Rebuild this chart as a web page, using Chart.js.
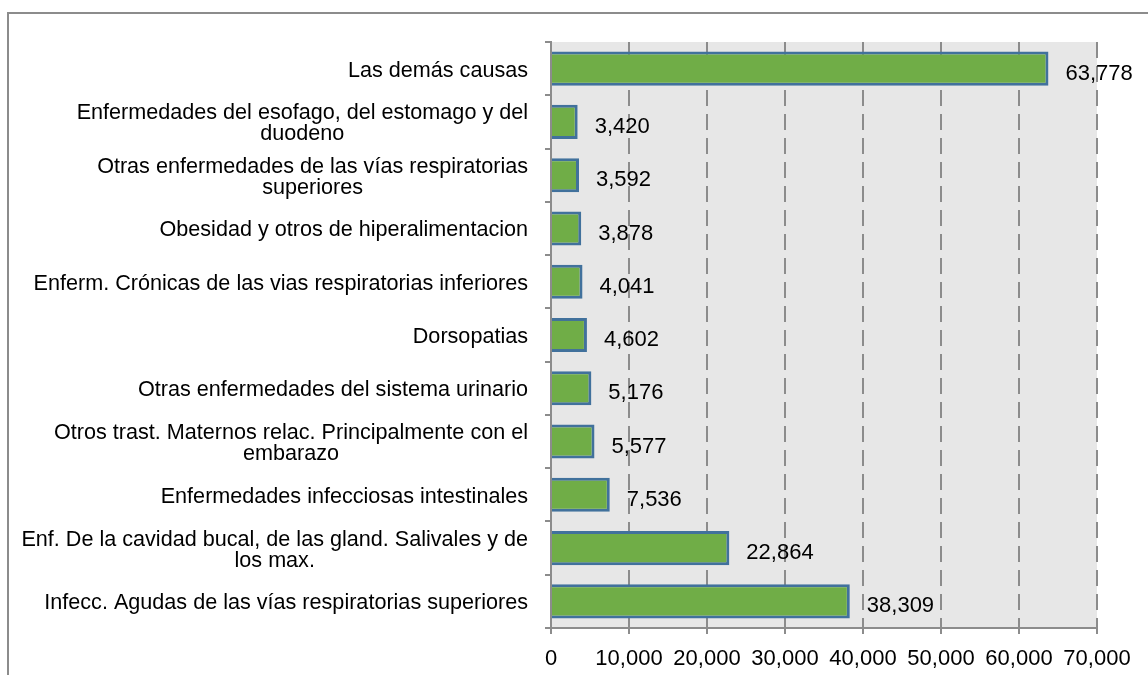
<!DOCTYPE html>
<html>
<head>
<meta charset="utf-8">
<title>Causas de consulta</title>
<script src="https://cdn.jsdelivr.net/npm/chart.js"></script>
<style>
  body { margin: 0; background: #fff; }
  #wrap { width: 1148px; height: 675px; }
</style>
</head>
<body>
<div id="wrap"><canvas id="myChart" width="1148" height="675"></canvas></div>
<script>
// categorias (de arriba hacia abajo), partidas en lineas como en el grafico
var causas = [
  ["Las demás causas"],
  ["Enfermedades del esofago, del estomago y del", "duodeno"],
  ["Otras enfermedades de las vías respiratorias", "superiores"],
  ["Obesidad y otros de hiperalimentacion"],
  ["Enferm. Crónicas de las vias respiratorias inferiores"],
  ["Dorsopatias"],
  ["Otras enfermedades del sistema urinario"],
  ["Otros trast. Maternos relac. Principalmente con el", "embarazo"],
  ["Enfermedades infecciosas intestinales"],
  ["Enf. De la cavidad bucal, de las gland. Salivales y de", "los max."],
  ["Infecc. Agudas de las vías respiratorias superiores"]
];
var casos = [63778, 3420, 3592, 3878, 4041, 4602, 5176, 5577, 7536, 22864, 38309];
var ejeX = [0, 10000, 20000, 30000, 40000, 50000, 60000, 70000];

var FUENTE = '"Liberation Sans", Arial, sans-serif';
var GRIS = '#8c8c8c';

function miles(v) {
  return Number(v).toLocaleString('en-US');
}

// fondo blanco, marco exterior y area gris del grafico
var fondo = {
  id: 'fondo',
  beforeDraw: function(chart) {
    var ctx = chart.ctx, a = chart.chartArea;
    ctx.save();
    ctx.fillStyle = '#fff';
    ctx.fillRect(0, 0, chart.width, chart.height);
    ctx.fillStyle = '#e7e7e7';
    ctx.fillRect(a.left, a.top, a.right - a.left, a.bottom - a.top);
    ctx.strokeStyle = GRIS;
    ctx.lineWidth = 2;
    ctx.beginPath();
    ctx.moveTo(8, chart.height);
    ctx.lineTo(8, 13);
    ctx.lineTo(chart.width, 13);
    ctx.stroke();
    ctx.restore();
  }
};

// nombres de las categorias: bloque alineado a la derecha, lineas centradas
var etiquetas = {
  id: 'etiquetas',
  afterDraw: function(chart) {
    var ctx = chart.ctx, y = chart.scales.y;
    var derecha = y.right - 23;
    var interlinea = 21;
    ctx.save();
    ctx.font = '21.6px ' + FUENTE;
    ctx.fillStyle = '#000';
    ctx.textAlign = 'center';
    ctx.textBaseline = 'middle';
    causas.forEach(function(lineas, i) {
      var ancho = Math.max.apply(null, lineas.map(function(l) { return ctx.measureText(l).width; }));
      var cx = derecha - ancho / 2;
      var cy = y.getPixelForValue(i) + 2 - (lineas.length - 1) * interlinea / 2;
      lineas.forEach(function(l, k) {
        ctx.fillText(l, cx, cy + k * interlinea);
      });
    });
    ctx.restore();
  }
};

// valores al final de cada barra
var valores = {
  id: 'valores',
  afterDatasetsDraw: function(chart) {
    var ctx = chart.ctx;
    var meta = chart.getDatasetMeta(0);
    ctx.save();
    ctx.font = '22px ' + FUENTE;
    ctx.fillStyle = '#000';
    ctx.textAlign = 'left';
    ctx.textBaseline = 'middle';
    meta.data.forEach(function(bar, i) {
      ctx.fillText(miles(casos[i]), bar.x + 17, bar.y + 5);
    });
    ctx.restore();
  }
};

Chart.defaults.font.family = FUENTE;
Chart.defaults.font.size = 22;
Chart.defaults.color = '#000';

var ctx = document.getElementById('myChart').getContext('2d');
var myChart = new Chart(ctx, {
  type: 'bar',
  data: {
    labels: causas.map(function(c) { return c.join(' '); }),
    datasets: [{
      data: casos,
      backgroundColor: '#70ad47',
      borderColor: '#41719c',
      borderWidth: 3,
      barPercentage: 0.64,
      categoryPercentage: 1
    }]
  },
  options: {
    indexAxis: 'y',
    responsive: false,
    animation: false,
    layout: { padding: { top: 42, right: 51, left: 0, bottom: 0 } },
    plugins: {
      legend: { display: false },
      tooltip: { enabled: false }
    },
    scales: {
      x: {
        min: ejeX[0],
        max: ejeX[ejeX.length - 1],
        ticks: {
          stepSize: ejeX[1] - ejeX[0],
          padding: 12,
          maxRotation: 0,
          autoSkip: false,
          callback: function(v) { return miles(v); }
        },
        grid: {
          color: GRIS,
          lineWidth: 2,
          tickLength: 6,
          tickColor: GRIS
        },
        border: { color: GRIS, width: 2, dash: [16, 8] },
        afterFit: function(scale) { scale.height = 47; }
      },
      y: {
        z: 1,
        ticks: { display: false },
        grid: {
          drawOnChartArea: false,
          drawTicks: true,
          tickLength: 6,
          color: GRIS,
          lineWidth: 2
        },
        border: { color: GRIS, width: 2 },
        afterFit: function(scale) { scale.width = 551; }
      }
    }
  },
  plugins: [fondo, etiquetas, valores]
});
</script>
</body>
</html>
